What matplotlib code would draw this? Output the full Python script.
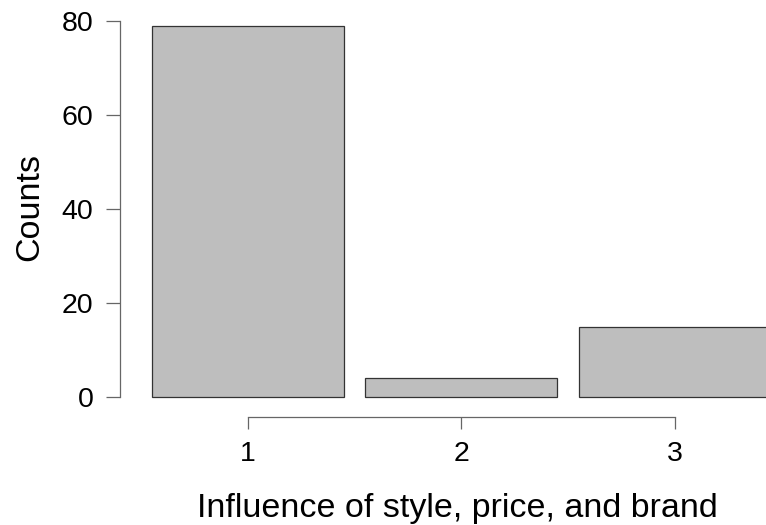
import matplotlib
matplotlib.use("Agg")
import matplotlib.pyplot as plt

categories = [1, 2, 3]
counts = [79, 4, 15]
yticks = [0, 20, 40, 60, 80]
xlabel = "Influence of style, price, and brand"
ylabel = "Counts"

plt.rcParams['font.family'] = ['Liberation Sans', 'DejaVu Sans']

W, H = 766, 525
fig = plt.figure(figsize=(W / 100, H / 100), dpi=100)
left_px, right_px, top_px, bottom_px = 120, 766, 21, 416.7
ax = fig.add_axes([left_px / W, 1 - bottom_px / H, (right_px - left_px) / W, (bottom_px - top_px) / H])

ax.bar(categories, counts, width=0.9, color='#BEBEBE', edgecolor='#333333', linewidth=0.9)

ax.set_xlim(0.4023, 3.426)
ax.set_ylim(-4.19, 80)

for s in ['top', 'right']:
    ax.spines[s].set_visible(False)
ax.spines['left'].set_bounds(0, 80)
ax.spines['bottom'].set_bounds(1, 3)
for s in ['left', 'bottom']:
    ax.spines[s].set_color('#666666')
    ax.spines[s].set_linewidth(0.9)

ax.set_yticks(yticks)
ax.set_yticklabels([str(v) for v in yticks])
ax.set_xticks(categories)
ax.set_xticklabels([str(c) for c in categories])
ax.tick_params(axis='y', length=10, width=0.9, color='#666666', pad=9, labelsize=20.5)
ax.tick_params(axis='x', length=8.6, width=0.9, color='#666666', pad=9, labelsize=20.5)

ax.set_xlabel(xlabel, fontsize=24.5)
ax.xaxis.set_label_coords((457 - left_px) / (right_px - left_px), (bottom_px - 517) / (bottom_px - top_px))
ax.xaxis.label.set_va('baseline')
ax.set_ylabel(ylabel, fontsize=24.5)
ax.yaxis.set_label_coords((30 - left_px) / (right_px - left_px), (bottom_px - 207) / (bottom_px - top_px))
ax.yaxis.label.set_va('center')

fig.savefig("out.png", dpi=100)
